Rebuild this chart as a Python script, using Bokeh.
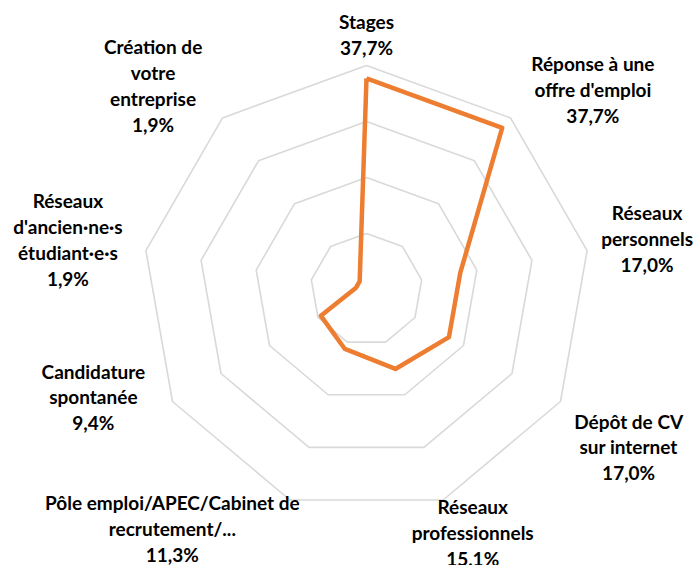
import math
from bokeh.plotting import figure
from bokeh.models import Range1d, ColumnDataSource
from bokeh.core.properties import value
from bokeh.embed import file_html
from bokeh.resources import INLINE

# ---- data ----
categories = [
    "Stages",
    "Réponse à une\noffre d'emploi",
    "Réseaux\npersonnels",
    "Dépôt de CV\nsur internet",
    "Réseaux\nprofessionnels",
    "Pôle emploi/APEC/Cabinet de\nrecrutement/...",
    "Candidature\nspontanée",
    "Réseaux\nd'ancien·ne·s\nétudiant·e·s",
    "Création de\nvotre\nentreprise",
]
values = [37.7, 37.7, 17.0, 17.0, 15.1, 11.3, 9.4, 1.9, 1.9]
ring_levels = [10, 20, 30, 40]

# ---- layout (pixels) ----
W, H = 698, 565
CX, CY = 366, 289          # centre of the radar in the window
PX_PER_UNIT = 5.6          # 1 % = 5.6 px
LAB_RX, LAB_RY = 290, 255  # ellipse on which labels sit (px)
label_nudge = [(0, 0), (40, -5), (-5, -7), (11, 30), (7, 3),
               (-95, -1), (-22, -20), (-13, -6), (-27, -9)]

n = len(categories)
angles = [2 * math.pi * i / n for i in range(n)]

p = figure(width=W, height=H, output_backend="svg", toolbar_location=None,
           x_range=Range1d(-CX / PX_PER_UNIT, (W - CX) / PX_PER_UNIT),
           y_range=Range1d(-(H - CY) / PX_PER_UNIT, CY / PX_PER_UNIT),
           min_border=0, min_border_left=0, min_border_right=0,
           min_border_top=0, min_border_bottom=0)
p.axis.visible = False
p.grid.visible = False
p.outline_line_color = None
p.background_fill_color = "white"
p.border_fill_color = "white"

# rings
for lv in ring_levels:
    xs = [lv * math.sin(a) for a in angles] + [0]
    ys = [lv * math.cos(a) for a in angles] + [lv]
    p.line(xs, ys, line_color="#D9D9D9", line_width=1.6)

# data series
dx = [v * math.sin(a) for v, a in zip(values, angles)]
dy = [v * math.cos(a) for v, a in zip(values, angles)]
p.line(dx + [dx[0]], dy + [dy[0]], line_color="#ED7D31", line_width=4.5,
       line_join="round")

# labels
texts, lx, ly = [], [], []
for cat, v, a, (nx, ny) in zip(categories, values, angles, label_nudge):
    texts.append(cat + "\n" + f"{v:.1f}%".replace(".", ","))
    px = LAB_RX * math.sin(a) + nx
    py = -LAB_RY * math.cos(a) + ny
    lx.append(px / PX_PER_UNIT)
    ly.append(-py / PX_PER_UNIT)

src = ColumnDataSource(dict(x=lx, y=ly, t=texts))
p.text(x="x", y="y", text="t", source=src, text_align="center",
       text_baseline="middle", text_font=value("Lato"), text_font_style="bold",
       text_font_size="19px", text_color="#000000", text_line_height=1.13)

open("out.html", "w").write(file_html(p, INLINE))
